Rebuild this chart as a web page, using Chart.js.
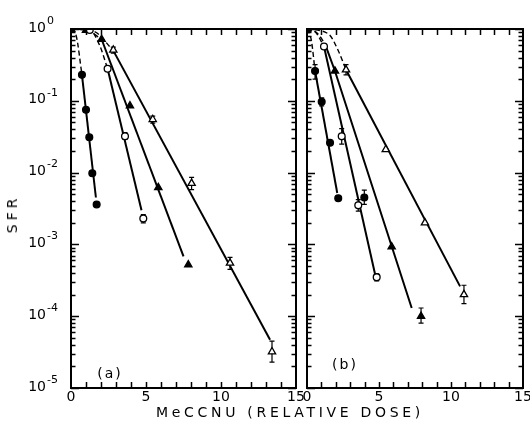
<!DOCTYPE html>
<html><head><meta charset="utf-8">
<script src="https://cdn.jsdelivr.net/npm/chart.js@4.4.0/dist/chart.umd.min.js"></script>
<style>
html,body{margin:0;padding:0;background:#fff;}
#wrap{position:relative;width:530px;height:431px;overflow:hidden;background:#fff;}
canvas{position:absolute;left:0;top:0;}
.lbl{position:absolute;font-family:"DejaVu Sans",sans-serif;color:#000;white-space:nowrap;transform:translate(-50%,-50%);}
#yt{transform:translate(-50%,-50%) rotate(-90deg);}
</style></head><body>
<div id="wrap">
<canvas id="ca" width="530" height="431"></canvas>
<canvas id="cb" width="530" height="431"></canvas>
<div class="lbl" id="xt" style="left:290px;top:412px;font-size:14px;letter-spacing:3.7px;">MeCCNU (RELATIVE DOSE)</div>
<div class="lbl" id="yt" style="left:12px;top:214px;font-size:14px;letter-spacing:4px;">SFR</div>
<div class="lbl" id="pa" style="left:110px;top:373px;font-size:14px;letter-spacing:2px;">(a)</div>
<div class="lbl" id="pb" style="left:345px;top:364px;font-size:14px;letter-spacing:2px;">(b)</div>
</div>
<script>
// ---- axis ticks ----
const xTicks = [0, 5, 10, 15];
const yTicks = [1e-5, 1e-4, 1e-3, 1e-2, 1e-1, 1];
const yTickBase = '10';
const yTickExps = ['-5', '-4', '-3', '-2', '-1', '0'];

// ---- panel (a) measured points ----
const doseA1 = [0, 0.73, 1.0, 1.22, 1.42, 1.71];
const sfrA1  = [1, 0.23, 0.075, 0.031, 0.0098, 0.0036];
const doseA2 = [0, 1.25, 2.44, 3.6, 4.82];
const sfrA2  = [1, 0.97, 0.28, 0.032, 0.0023];
const errA2  = [null, null, null, [0.029, 0.036], [0.0020, 0.0026]];
const doseA3 = [0, 1.0, 2.04, 3.93, 5.82, 7.82];
const sfrA3  = [1, 0.96, 0.72, 0.085, 0.0062, 0.00052];
const doseA4 = [0, 2.82, 5.45, 8.04, 10.6, 13.4];
const sfrA4  = [1, 0.51, 0.055, 0.0071, 0.00055, 3.2e-5];
const errA4  = [null, [0.46, 0.56], [0.049, 0.061], [0.0058, 0.0086], [0.00045, 0.00066], [2.3e-5, 4.5e-5]];

// ---- panel (a) fitted curves (dashed shoulder, then straight tail) ----
const fitDoseA1 = [0, 0.35, 0.73, 1.66];
const fitSfrA1  = [1, 0.8, 0.23, 0.0045];
const fitDoseA2 = [0, 1.25, 1.9, 2.44, 4.7];
const fitSfrA2  = [1, 0.97, 0.6, 0.28, 0.003];
const fitDoseA3 = [0, 1.0, 2.04, 7.5];
const fitSfrA3  = [1, 0.97, 0.72, 0.00068];
const fitDoseA4 = [0, 1.5, 2.82, 13.27];
const fitSfrA4  = [1, 0.93, 0.5, 4.7e-5];

// ---- panel (b) measured points ----
const doseB1 = [0, 0.56, 1.02, 1.6, 2.17, 3.98];
const sfrB1  = [1, 0.26, 0.097, 0.026, 0.0044, 0.0045];
const errB1  = [null, [0.2, 0.32], [0.085, 0.11], null, null, [0.0036, 0.0057]];
const doseB2 = [0, 1.18, 2.41, 3.56, 4.84];
const sfrB2  = [1, 0.57, 0.032, 0.0035, 0.00035];
const errB2  = [null, null, [0.025, 0.041], [0.0029, 0.0042], [0.00031, 0.00039]];
const doseB3 = [0, 1.94, 5.88, 7.92];
const sfrB3  = [1, 0.26, 0.00093, 0.0001];
const errB3  = [null, null, null, [0.00008, 0.00013]];
const doseB4 = [0, 2.71, 5.47, 8.19, 10.9];
const sfrB4  = [1, 0.27, 0.021, 0.0020, 0.0002];
const errB4  = [null, [0.23, 0.32], null, null, [0.00015, 0.00027]];

// ---- panel (b) fitted curves ----
const fitDoseB1 = [0, 0.3, 0.56, 2.1];
const fitSfrB1  = [1, 0.7, 0.26, 0.0052];
const fitDoseB2 = [0, 0.6, 1.18, 4.72];
const fitSfrB2  = [1, 0.9, 0.57, 0.00039];
const fitDoseB3 = [0, 0.7, 1.25, 1.94, 7.27];
const fitSfrB3  = [1, 0.88, 0.62, 0.26, 0.00013];
const fitDoseB4 = [0, 1.5, 2.15, 2.71, 10.63];
const fitSfrB4  = [1, 0.85, 0.51, 0.27, 0.00026];

const FONT = '"DejaVu Sans", sans-serif';

function pts(xs, ys) { return xs.map((x, i) => ({x: x, y: ys[i]})); }

function markers(xs, ys, style, filled, errs) {
  return {
    type: 'scatter', data: pts(xs, ys), showLine: false,
    pointStyle: style, pointRadius: style === 'triangle' ? 4.2 : 3.4,
    pointBackgroundColor: filled ? '#000' : '#fff',
    pointBorderColor: '#000', pointBorderWidth: 1.3,
    errors: errs || null, order: 0
  };
}

// split a fitted curve: dashed smooth shoulder up to index k, straight solid tail after it
function curve(xs, ys, k) {
  const all = pts(xs, ys);
  return [
    { type: 'line', data: all.slice(0, k + 1), showLine: true, borderColor: '#000',
      borderWidth: 1.4, borderDash: [5, 3], pointRadius: 0, cubicInterpolationMode: 'monotone',
      fill: false, order: 1 },
    { type: 'line', data: all.slice(k), showLine: true, borderColor: '#000',
      borderWidth: 2, pointRadius: 0, tension: 0, fill: false, order: 1 }
  ];
}

const framePlugin = {
  id: 'frameTicks',
  beforeDatasetsDraw(chart) {
    const ctx = chart.ctx, xs = chart.scales.x, ys = chart.scales.y;
    ctx.save();
    ctx.strokeStyle = '#000'; ctx.lineWidth = 1.2;
    chart.data.datasets.forEach(ds => {
      if (!ds.errors) return;
      ds.data.forEach((p, i) => {
        const e = ds.errors[i]; if (!e) return;
        const x = xs.getPixelForValue(p.x);
        const y1 = ys.getPixelForValue(e[0]), y2 = ys.getPixelForValue(e[1]);
        ctx.beginPath();
        ctx.moveTo(x, y1); ctx.lineTo(x, y2);
        ctx.moveTo(x - 2.5, y1); ctx.lineTo(x + 2.5, y1);
        ctx.moveTo(x - 2.5, y2); ctx.lineTo(x + 2.5, y2);
        ctx.stroke();
      });
    });
    ctx.restore();
  },
  afterDraw(chart) {
    const ctx = chart.ctx, a = chart.chartArea, xs = chart.scales.x, ys = chart.scales.y;
    ctx.save();
    ctx.strokeStyle = '#000';
    ctx.lineWidth = 2;
    ctx.strokeRect(a.left, a.top, a.right - a.left, a.bottom - a.top);
    ctx.lineWidth = 1.5;
    ctx.beginPath();
    for (let v = 1; v < 15; v++) {
      const x = Math.round(xs.getPixelForValue(v)) + 0.5;
      ctx.moveTo(x, a.top); ctx.lineTo(x, a.top + 6);
      ctx.moveTo(x, a.bottom); ctx.lineTo(x, a.bottom - 6);
    }
    for (let d = -5; d <= 0; d++) {
      for (let m = 1; m <= 9; m++) {
        const v = m * Math.pow(10, d);
        if (v > 1 || v < 1e-5) continue;
        const y = Math.round(ys.getPixelForValue(v)) + 0.5;
        const len = m === 1 ? 8 : 4.5;
        ctx.moveTo(a.left, y); ctx.lineTo(a.left + len, y);
        ctx.moveTo(a.right, y); ctx.lineTo(a.right - len, y);
      }
    }
    ctx.stroke();
    // decade labels with superscript exponent (left panel only)
    if (chart.options.showDecadeLabels) {
      ctx.fillStyle = '#000';
      ctx.textBaseline = 'middle';
      yTicks.forEach((v, i) => {
        const y = ys.getPixelForValue(v);
        ctx.font = '14px ' + FONT;
        ctx.textAlign = 'right';
        ctx.fillText(yTickBase, a.left - 25, y - 1);
        ctx.font = '11px ' + FONT;
        ctx.textAlign = 'left';
        ctx.fillText(yTickExps[i], a.left - 24, y - 8);
      });
    }
    ctx.restore();
  }
};

function makeOptions(isA) {
  return {
    responsive: false, animation: false, devicePixelRatio: 1,
    showDecadeLabels: isA,
    layout: { padding: { top: 29, right: isA ? 234 : 7, left: 0, bottom: 0 } },
    plugins: { legend: { display: false }, tooltip: { enabled: false } },
    scales: {
      x: {
        type: 'linear', min: 0, max: 15,
        afterBuildTicks: s => { s.ticks = xTicks.map(v => ({value: v})); },
        afterFit: s => { s.height = 43; s.paddingLeft = 0; s.paddingRight = 0; },
        grid: { display: false, drawTicks: false }, border: { display: false },
        ticks: { color: '#000', font: { family: FONT, size: 14 }, padding: 1, maxRotation: 0, autoSkip: false }
      },
      y: {
        type: 'logarithmic', min: 1e-5, max: 1,
        afterBuildTicks: s => { s.ticks = yTicks.map(v => ({value: v})); },
        afterFit: s => { s.width = isA ? 71 : 307; s.paddingTop = 0; s.paddingBottom = 0; },
        grid: { display: false, drawTicks: false }, border: { display: false },
        ticks: { display: false }
      }
    }
  };
}

new Chart(document.getElementById('ca'), {
  type: 'scatter',
  data: { datasets: [].concat(
    curve(fitDoseA1, fitSfrA1, 2),
    curve(fitDoseA2, fitSfrA2, 3),
    curve(fitDoseA3, fitSfrA3, 2),
    curve(fitDoseA4, fitSfrA4, 2),
    [markers(doseA1, sfrA1, 'circle', true),
     markers(doseA2, sfrA2, 'circle', false, errA2),
     markers(doseA3, sfrA3, 'triangle', true),
     markers(doseA4, sfrA4, 'triangle', false, errA4)]
  )},
  options: makeOptions(true),
  plugins: [framePlugin]
});

new Chart(document.getElementById('cb'), {
  type: 'scatter',
  data: { datasets: [].concat(
    curve(fitDoseB1, fitSfrB1, 2),
    curve(fitDoseB2, fitSfrB2, 2),
    curve(fitDoseB3, fitSfrB3, 2),
    curve(fitDoseB4, fitSfrB4, 3),
    [markers(doseB1, sfrB1, 'circle', true, errB1),
     markers(doseB2, sfrB2, 'circle', false, errB2),
     markers(doseB3, sfrB3, 'triangle', true, errB3),
     markers(doseB4, sfrB4, 'triangle', false, errB4)]
  )},
  options: makeOptions(false),
  plugins: [framePlugin]
});
</script>
</body></html>
